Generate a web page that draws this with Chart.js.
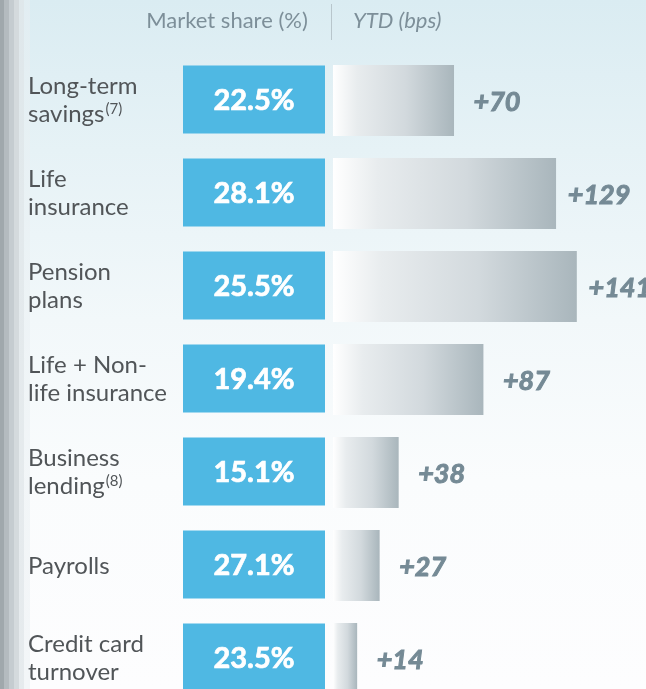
<!DOCTYPE html>
<html>
<head>
<meta charset="utf-8">
<script src="https://cdn.jsdelivr.net/npm/chart.js@4"></script>
<style>
  html, body { margin: 0; padding: 0; overflow: hidden; }
  #wrap {
    position: relative;
    width: 646px;
    height: 720px;
    background:
      linear-gradient(to right, #a0a8ac 0px, #a0a8ac 4px, #b4bbbf 4px, #b4bbbf 9px, #c5ccd0 9px, #c5ccd0 14px,
        #d4dadd 14px, #d4dadd 19px, rgba(224,230,233,0.8) 19px, rgba(224,230,233,0.8) 24px,
        rgba(233,239,242,0.5) 24px, rgba(233,239,242,0.5) 30px, rgba(255,255,255,0) 30px),
      linear-gradient(to bottom, #daecf2 0px, #e6f2f6 150px, #f2f8fa 320px, #fafcfd 480px, #fdfdfe 689px);
  }
</style>
</head>
<body>
<div id="wrap"><canvas id="chart"></canvas></div>
<script>
const categories = [
  ['Long-term', 'savings'],
  ['Life', 'insurance'],
  ['Pension', 'plans'],
  ['Life + Non-', 'life insurance'],
  ['Business', 'lending'],
  ['Payrolls'],
  ['Credit card', 'turnover']
];
const footnotes = ['(7)', '', '', '', '(8)', '', ''];
const marketShare = [22.5, 28.1, 25.5, 19.4, 15.1, 27.1, 23.5];
const ytdBps = [70, 129, 141, 87, 38, 27, 14];

const FONT = 'Lato, "Open Sans", sans-serif';

function barGradient(context) {
    const chart = context.chart;
    if (!chart.chartArea || context.type !== 'data') {
        return '#c3cdd2';
    }
    const x = chart.scales.x;
    const x0 = x.getPixelForValue(0);
    const x1 = x.getPixelForValue(context.raw);
    const g = chart.ctx.createLinearGradient(x0, 0, x1, 0);
    g.addColorStop(0, '#ffffff');
    g.addColorStop(0.2, '#e8ecee');
    g.addColorStop(0.6, '#d2d9dd');
    g.addColorStop(1, '#a9b6bc');
    return g;
}

// fill then a thin stroke so the bold text reads as heavy as in the original
function heavyText(ctx, text, x, y, w) {
    ctx.fillText(text, x, y);
    ctx.lineWidth = w;
    ctx.strokeStyle = ctx.fillStyle;
    ctx.strokeText(text, x, y);
}

const overlay = {
    id: 'overlay',
    afterDatasetsDraw(chart) {
        const ctx = chart.ctx;
        const x = chart.scales.x;
        const y = chart.scales.y;
        ctx.save();

        // header
        ctx.fillStyle = '#7d8f99';
        ctx.textBaseline = 'middle';
        ctx.textAlign = 'center';
        ctx.font = '22px ' + FONT;
        ctx.fillText('Market share (%)', 227, 21);
        ctx.textAlign = 'left';
        ctx.font = 'italic 22px ' + FONT;
        ctx.fillText('YTD (bps)', 353, 21);
        ctx.strokeStyle = '#b8c6cc';
        ctx.lineWidth = 1;
        ctx.beginPath();
        ctx.moveTo(331.5, 4);
        ctx.lineTo(331.5, 40);
        ctx.stroke();

        categories.forEach((lines, i) => {
            const cy = y.getPixelForValue(i);

            // category label
            ctx.fillStyle = '#515558';
            ctx.textAlign = 'left';
            ctx.textBaseline = 'alphabetic';
            ctx.font = '24px ' + FONT;
            const bases = lines.length === 1 ? [cy + 8.5] : [cy - 7, cy + 21.5];
            lines.forEach((line, k) => ctx.fillText(line, 28, bases[k]));
            if (footnotes[i]) {
                const last = lines[lines.length - 1];
                const w = ctx.measureText(last).width;
                ctx.font = '15px ' + FONT;
                ctx.fillText(footnotes[i], 28 + w + 1, bases[bases.length - 1] - 8);
            }

            // market share box
            ctx.fillStyle = '#4fb8e3';
            ctx.fillRect(183, cy - 35, 142, 68);
            ctx.fillStyle = '#ffffff';
            ctx.textAlign = 'center';
            ctx.textBaseline = 'middle';
            ctx.font = 'bold 29px ' + FONT;
            heavyText(ctx, marketShare[i].toFixed(1) + '%', 254, cy, 0.7);

            // YTD label
            const xe = x.getPixelForValue(ytdBps[i]);
            ctx.fillStyle = '#758a95';
            ctx.font = 'italic bold 27px ' + FONT;
            heavyText(ctx, '+' + ytdBps[i], xe + 43, cy + 2, 1);
        });
        ctx.restore();
    }
};

new Chart(document.getElementById('chart'), {
    type: 'bar',
    data: {
        labels: categories.map(l => l.join(' ')),
        datasets: [{
            label: 'YTD (bps)',
            data: ytdBps,
            backgroundColor: barGradient,
            borderWidth: 0,
            barPercentage: 0.763,
            categoryPercentage: 1
        }]
    },
    options: {
        indexAxis: 'y',
        responsive: true,
        maintainAspectRatio: false,
        animation: false,
        layout: { padding: { top: 54, bottom: 15, left: 0, right: 0 } },
        plugins: {
            legend: { display: false },
            tooltip: { enabled: false }
        },
        scales: {
            x: { display: false, min: -192.5, max: 181 },
            y: { display: false }
        }
    },
    plugins: [overlay]
});
</script>
</body>
</html>
